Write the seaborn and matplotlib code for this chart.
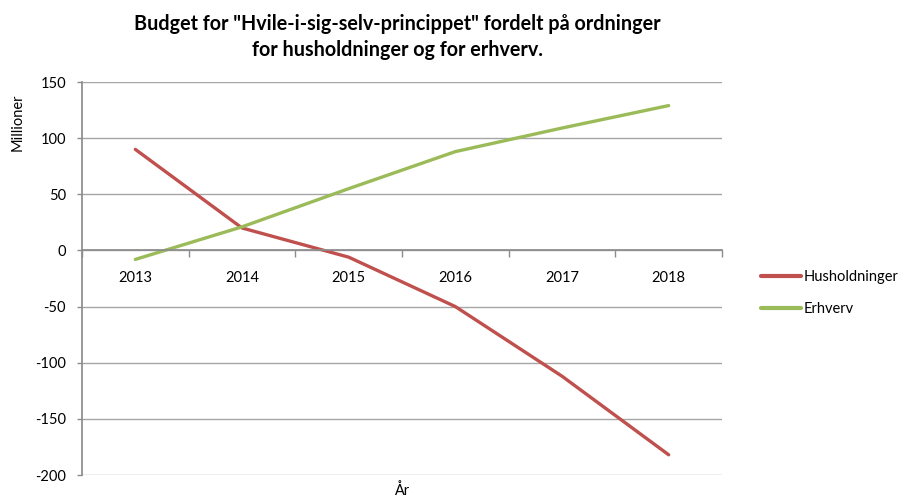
import pandas as pd
import seaborn as sns
import matplotlib.pyplot as plt
from matplotlib.ticker import FixedLocator

# Data
years = [2013, 2014, 2015, 2016, 2017, 2018]
husholdninger = [90, 20, -6, -50, -112, -182]
erhverv = [-8, 21, 55, 88, 109, 129]
y_ticks = [150, 100, 50, 0, -50, -100, -150, -200]

df = pd.DataFrame({
    "År": years * 2,
    "Millioner": husholdninger + erhverv,
    "serie": ["Husholdninger"] * len(years) + ["Erhverv"] * len(years),
})

sns.set_theme(style="white")
plt.rcParams["font.family"] = ["Lato", "DejaVu Sans"]
plt.rcParams["axes.unicode_minus"] = False
plt.rcParams["text.color"] = "black"

fig = plt.figure(figsize=(9.02, 4.97), dpi=100)
ax = fig.add_axes([82 / 902, 1 - 475 / 497, 640 / 902, 393 / 497])

sns.lineplot(
    data=df, x="År", y="Millioner", hue="serie",
    palette={"Husholdninger": "#C0504D", "Erhverv": "#9BBB59"},
    linewidth=2.4, ax=ax, legend=True,
)

ax.set_xlim(years[0] - 0.5, years[-1] + 0.5)
ax.set_ylim(-200, 150)
ax.set_yticks(y_ticks)
ax.yaxis.grid(True, color="#A6A6A6", linewidth=1.0)
ax.set_axisbelow(True)

# category axis crossing at zero, tick marks between categories
ax.spines["bottom"].set_position(("data", 0))
ax.spines["bottom"].set_color("#8C8C8C")
ax.spines["left"].set_color("#8C8C8C")
ax.spines["top"].set_visible(False)
ax.spines["right"].set_visible(False)
ax.set_xticks(years)
ax.set_xticklabels([str(y) for y in years])
ax.xaxis.set_minor_locator(FixedLocator([y + 0.5 for y in [years[0] - 1] + years]))
ax.tick_params(axis="x", which="major", length=0, pad=15, labelsize=10.5, colors="black")
ax.tick_params(axis="x", which="minor", length=5, width=1, color="#8C8C8C", bottom=True)
ax.tick_params(axis="y", length=3.5, width=1, color="#8C8C8C", left=True, pad=8,
               labelsize=10.5, labelcolor="black")

ax.set_xlabel("")
ax.set_ylabel("")
fig.text(18 / 902, 1 - 122 / 497, "Millioner", rotation=90, ha="center", va="center", fontsize=10.5)
fig.text(402 / 902, 1 - 491 / 497, "År", ha="center", va="center", fontsize=10.5)

fig.text(397 / 902, 1 - 37 / 497,
         "Budget for \"Hvile-i-sig-selv-princippet\" fordelt på ordninger\nfor husholdninger og for erhverv.",
         ha="center", va="center", fontsize=14.2, fontweight="bold", linespacing=1.35)

leg = ax.legend(loc="center left", bbox_to_anchor=(748 / 902, 1 - 293 / 497),
                bbox_transform=fig.transFigure, frameon=False, fontsize=10.5,
                handlelength=2.7, handletextpad=0.2, labelspacing=1.2)
for line in leg.get_lines():
    line.set_linewidth(3)

fig.savefig("out.png", dpi=100)
